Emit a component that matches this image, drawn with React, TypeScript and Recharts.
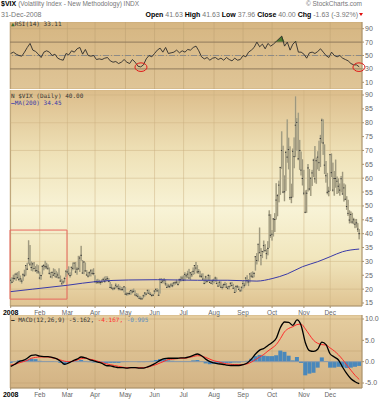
import React from 'react';
import {
  ComposedChart, Bar, Line, Area, XAxis, YAxis, CartesianGrid,
  ReferenceLine, ReferenceArea, ReferenceDot,
} from 'recharts';

// trading-day index of the first session of each month, and its label
const monthStart = [0, 21, 41, 61, 83, 104, 125, 147, 168, 189, 212, 231];
const monthLabels = ['2008', 'Feb', 'Mar', 'Apr', 'May', 'Jun', 'Jul', 'Aug', 'Sep', 'Oct', 'Nov', 'Dec'];

// daily [high, low, close]
const janBars = [
  [24.0, 21.8, 23.2], [24.3, 22.3, 22.5], [25.2, 22.6, 23.9], [25.6, 23.4, 23.8], [25.9, 23.0, 25.4],
  [26.1, 23.9, 24.1], [26.5, 22.9, 23.5], [24.9, 22.6, 23.7], [23.8, 22.0, 22.9], [25.7, 23.0, 25.2],
  [27.0, 24.4, 25.0], [28.7, 24.9, 28.5], [29.5, 26.9, 27.2], [37.6, 29.1, 31.0], [35.9, 28.3, 29.0],
  [30.0, 26.6, 27.8], [29.6, 26.4, 29.1], [29.8, 27.2, 27.4], [28.3, 26.3, 26.6], [28.9, 25.7, 26.7],
  [28.6, 25.5, 26.2],
];
const febBars = [
  [26.3, 23.5, 24.0], [25.2, 23.4, 24.9], [28.6, 25.3, 28.2], [29.0, 26.8, 28.5], [30.2, 27.3, 28.1],
  [29.5, 27.2, 28.0], [28.9, 26.9, 27.5], [27.8, 25.3, 25.7], [26.2, 24.2, 24.4], [26.4, 23.9, 26.0],
  [27.5, 25.0, 25.0], [27.2, 24.3, 25.6], [26.6, 24.2, 24.4], [26.0, 23.9, 25.1], [27.5, 23.8, 24.1],
  [24.9, 22.6, 22.9], [23.6, 21.8, 21.9], [23.2, 21.9, 22.6], [24.4, 22.4, 23.8], [26.6, 24.4, 26.5],
];
const marBars = [
  [27.2, 25.5, 26.2], [28.2, 25.0, 25.5], [26.1, 24.2, 24.9], [28.0, 24.9, 27.9], [29.6, 26.8, 27.5],
  [29.5, 27.1, 29.4], [29.8, 25.8, 26.2], [28.0, 25.2, 27.2], [32.0, 27.1, 27.3], [32.0, 26.2, 31.2],
  [35.6, 30.2, 32.2], [30.5, 25.6, 25.8], [29.9, 25.4, 29.8], [29.6, 26.2, 26.6], [26.9, 24.9, 25.1],
  [26.2, 24.2, 24.7], [26.4, 24.6, 25.9], [27.2, 24.6, 26.6], [27.1, 25.2, 25.7], [27.5, 25.0, 25.6],
];
const aprBars = [
  [25.0, 22.3, 22.7], [23.5, 21.9, 22.6], [23.7, 22.0, 22.5], [23.4, 21.9, 22.5], [22.9, 21.6, 22.4],
  [23.6, 22.2, 22.6], [24.1, 22.6, 23.5], [24.5, 22.3, 22.8], [24.7, 22.9, 23.5], [24.6, 23.0, 23.8],
  [24.0, 22.5, 22.8], [22.6, 20.5, 20.6], [21.8, 20.0, 20.4], [20.7, 19.6, 20.1], [20.9, 19.7, 20.3],
  [22.1, 20.2, 21.4], [21.5, 20.4, 20.9], [21.8, 19.6, 20.2], [21.2, 19.6, 20.1], [20.8, 19.6, 19.8],
  [20.7, 19.4, 19.9], [21.1, 18.8, 20.8],
];
const mayBars = [
  [20.8, 18.0, 18.2], [18.9, 17.6, 18.2], [18.8, 17.8, 18.4], [19.4, 17.9, 18.4], [19.8, 18.0, 19.5],
  [19.9, 18.5, 19.0], [20.2, 18.8, 19.2], [19.6, 17.8, 17.9], [18.6, 17.5, 17.6], [18.4, 16.9, 17.4],
  [17.6, 16.6, 16.7], [17.4, 16.3, 16.5], [17.1, 16.3, 16.5], [18.0, 16.7, 17.6], [18.9, 17.3, 18.6],
  [18.8, 17.8, 18.2], [19.7, 18.3, 19.6], [19.8, 18.3, 18.5], [18.9, 17.9, 18.1], [18.3, 17.3, 17.7],
  [18.3, 17.5, 17.8],
];
const junBars = [
  [19.6, 18.2, 19.3], [20.3, 18.9, 19.9], [20.3, 19.0, 19.4], [19.9, 17.7, 17.8], [23.7, 18.4, 23.6],
  [24.0, 22.1, 22.4], [23.7, 22.1, 22.9], [24.0, 22.1, 23.2], [23.4, 21.2, 21.9], [22.0, 20.4, 20.6],
  [21.9, 20.5, 21.1], [21.6, 20.4, 20.9], [22.2, 20.8, 21.5], [22.3, 20.7, 21.2], [22.6, 21.3, 22.2],
  [22.8, 21.6, 22.3], [23.4, 21.9, 22.5], [22.8, 21.3, 21.7], [23.8, 22.1, 23.4], [24.6, 22.7, 23.4],
  [24.8, 22.9, 24.0],
];
const julBars = [
  [25.0, 22.9, 23.2], [26.1, 22.9, 25.3], [25.6, 23.9, 24.8], [26.6, 24.0, 25.4], [27.3, 23.8, 24.0],
  [26.0, 23.3, 25.9], [26.4, 24.4, 25.2], [27.8, 25.1, 26.4], [28.7, 25.4, 28.5], [29.8, 26.7, 27.6],
  [28.7, 25.6, 26.2], [27.2, 25.5, 26.3], [26.6, 24.2, 24.7], [25.6, 24.0, 24.6], [25.7, 23.3, 23.6],
  [23.9, 21.9, 22.0], [24.8, 22.1, 24.4], [24.3, 22.5, 22.7], [25.4, 22.8, 24.9], [25.1, 22.2, 22.4],
  [23.2, 21.9, 22.1], [23.5, 21.6, 22.9],
];
const augBars = [
  [23.8, 22.1, 23.2], [24.5, 22.6, 24.0], [24.2, 21.9, 22.0], [22.4, 20.8, 21.1], [22.9, 21.0, 22.5],
  [22.8, 20.5, 20.7], [21.5, 19.9, 20.6], [22.0, 20.4, 21.6], [22.6, 21.1, 21.7], [22.2, 20.5, 20.7],
  [21.1, 19.9, 20.3], [21.3, 19.9, 20.9], [22.5, 20.8, 22.1], [22.6, 21.1, 21.3], [21.9, 20.2, 20.3],
  [20.7, 18.8, 18.8], [21.3, 19.0, 21.0], [21.5, 20.6, 20.8], [21.1, 19.8, 19.9], [20.1, 19.1, 19.4],
  [20.8, 19.2, 20.7],
];
const sepBars = [
  [23.2, 20.2, 22.0], [22.3, 20.6, 21.4], [24.3, 21.3, 24.0], [25.0, 22.1, 23.1], [23.6, 21.1, 22.6],
  [25.6, 22.4, 25.5], [26.1, 24.2, 24.7], [26.4, 24.2, 24.4], [26.0, 24.3, 25.7], [31.8, 26.7, 31.7],
  [33.0, 28.9, 30.3], [36.2, 30.0, 36.2], [42.2, 33.0, 33.1], [34.8, 28.6, 32.1], [33.7, 31.2, 33.6],
  [37.5, 33.2, 35.7], [36.2, 33.5, 33.9], [34.4, 30.8, 32.8], [37.3, 32.2, 34.7], [48.4, 34.9, 46.7],
  [47.0, 38.5, 39.4],
];
const octBars = [
  [41.3, 37.5, 39.8], [45.6, 39.0, 45.3], [47.4, 40.6, 45.1], [58.2, 45.1, 52.1], [54.2, 46.3, 53.7],
  [59.1, 51.3, 57.5], [64.0, 54.0, 63.9], [76.9, 63.4, 70.0], [71.7, 54.6, 55.0], [61.0, 51.7, 55.1],
  [69.9, 55.4, 69.3], [81.2, 65.6, 67.6], [74.6, 63.2, 70.3], [71.5, 52.2, 53.0], [58.0, 51.0, 53.1],
  [70.7, 53.1, 69.7], [74.7, 63.6, 67.8], [89.5, 67.6, 79.1], [81.7, 69.9, 80.1], [83.6, 66.5, 67.0],
  [73.8, 63.0, 70.0], [69.6, 61.0, 62.9], [66.8, 57.4, 59.9],
];
const novBars = [
  [63.0, 53.9, 54.6], [55.6, 47.4, 47.7], [55.8, 47.5, 54.6], [65.1, 55.2, 63.7], [63.3, 55.6, 56.1],
  [60.2, 53.6, 60.0], [63.0, 57.2, 61.9], [67.0, 60.4, 66.5], [71.6, 58.4, 59.8], [67.4, 58.0, 66.3],
  [69.7, 63.2, 67.6], [73.5, 62.6, 65.6], [75.6, 64.0, 74.3], [81.5, 72.6, 80.9], [81.2, 68.4, 72.7],
  [72.2, 61.5, 64.7], [66.2, 58.4, 60.9], [61.9, 54.2, 54.9], [56.9, 53.5, 55.3],
];
const decBars = [
  [68.6, 55.4, 68.5], [68.9, 60.4, 62.0], [65.6, 55.2, 55.7], [62.6, 53.7, 59.9], [66.7, 56.6, 59.9],
  [60.6, 54.3, 58.9], [59.9, 54.6, 57.1], [58.1, 53.7, 55.7], [60.8, 54.9, 59.8], [62.3, 54.1, 54.3],
  [58.1, 51.6, 56.5], [57.7, 52.1, 52.4], [53.5, 48.6, 49.8], [52.2, 46.4, 47.3], [48.4, 43.7, 44.9],
  [48.0, 43.8, 46.9], [47.5, 43.6, 44.2], [45.7, 43.4, 45.0], [45.3, 42.0, 43.4], [45.3, 42.2, 43.9],
  [43.8, 40.6, 41.63], [41.63, 37.96, 40.0],
];

// 200-day moving average, read at a few trading-day indices
const maIndex = [0, 16, 41, 63, 85, 106, 135, 157, 178, 189, 200, 211, 222, 231, 240, 252];
const maValue = [19.1, 20.0, 21.4, 22.8, 23.3, 23.4, 23.2, 23.2, 22.9, 23.8, 25.5, 28.1, 29.9, 31.7, 33.5, 34.45];

// RSI(14), every 2nd session
const rsiValues = [
  53, 55, 52, 50, 49, 55, 62, 68, 58, 56,
  52, 47, 55, 57, 55, 50, 52, 46, 44, 43,
  53, 51, 57, 55, 60, 62, 52, 59, 50, 49,
  50, 44, 45, 44, 46, 47, 42, 40, 41, 38,
  40, 44, 40, 38, 44, 40, 34, 33, 36, 45,
  50, 48, 53, 58, 61, 55, 62, 53, 54, 55,
  58, 54, 57, 55, 59, 58, 62, 64, 57, 48,
  45, 47, 43, 46, 47, 44, 46, 43, 47, 44,
  42, 46, 43, 44, 50, 48, 55, 58, 62, 70,
  63, 67, 60, 68, 64, 67, 71, 75, 79, 64,
  70, 58, 67, 71, 55, 55, 52, 46, 54, 55,
  53, 56, 60, 55, 50, 47, 55, 50, 48, 50,
  46, 44, 42, 38, 36, 36, 33.11,
];

// MACD(12,26,9), every 3rd session
const macdValues = [
  -1.1, -0.6, 0.0, 0.3, 0.8, 1.5, 1.6, 1.3, 1.2, 1.2,
  1.0, 0.7, 0.1, -0.6, -0.3, 0.2, 0.6, 1.1, 0.9, 0.5,
  0.2, -0.1, -0.4, -0.9, -1.0, -1.2, -1.4, -1.4, -1.5, -1.4,
  -1.4, -1.5, -1.5, -1.2, -0.8, -0.3, 0.3, 0.7, 0.8, 0.8,
  0.8, 0.9, 0.9, 1.1, 1.5, 1.8, 1.4, 0.6, 0.0, -0.3,
  -0.5, -0.6, -0.8, -0.9, -0.9, -0.9, -0.7, -0.3, 0.6, 1.8,
  2.7, 3.1, 3.8, 4.5, 5.5, 8.0, 9.3, 9.2, 8.5, 9.8,
  8.5, 4.5, 2.6, 2.4, 2.9, 4.6, 4.0, 1.8, 1.1, 0.4,
  -1.3, -2.8, -4.0, -4.7, -5.162,
];
const signalValues = [
  -0.8, -0.6, -0.3, 0.0, 0.3, 0.8, 1.0, 1.1, 1.1, 1.1,
  0.9, 0.7, 0.4, 0.1, 0.0, 0.1, 0.4, 0.7, 0.8, 0.6,
  0.4, 0.1, -0.2, -0.5, -0.7, -0.9, -1.1, -1.3, -1.4, -1.4,
  -1.4, -1.4, -1.4, -1.3, -1.0, -0.7, -0.3, 0.1, 0.5, 0.6,
  0.7, 0.8, 0.8, 1.0, 1.2, 1.4, 1.3, 1.0, 0.6, 0.2,
  0.0, -0.3, -0.5, -0.6, -0.7, -0.7, -0.7, -0.5, -0.1, 0.5,
  1.1, 1.7, 2.5, 3.2, 4.0, 5.4, 7.0, 7.8, 8.2, 8.7,
  8.8, 7.7, 6.3, 5.0, 4.3, 4.0, 3.9, 3.2, 2.5, 1.6,
  0.5, -0.8, -2.0, -3.2, -4.167,
];
const histValues = [
  -0.3, 0.0, 0.3, 0.3, 0.5, 0.7, 0.6, 0.2, 0.1, 0.1,
  0.1, 0.0, -0.3, -0.7, -0.3, 0.1, 0.2, 0.4, 0.1, -0.1,
  -0.2, -0.2, -0.2, -0.4, -0.3, -0.3, -0.3, -0.1, -0.1, 0.0,
  0.0, -0.1, -0.1, 0.1, 0.2, 0.4, 0.6, 0.6, 0.3, 0.2,
  0.1, 0.1, 0.1, 0.1, 0.3, 0.4, 0.1, -0.4, -0.6, -0.5,
  -0.5, -0.3, -0.3, -0.3, -0.2, -0.2, 0.0, 0.2, 0.7, 1.3,
  1.6, 1.4, 1.3, 1.3, 1.5, 2.6, 2.3, 1.4, 0.3, 1.1,
  -0.3, -3.2, -2.8, -2.6, -1.4, 1.0, 0.1, -1.4, -1.4, -1.2,
  -1.3, -1.5, -1.4, -1.2, -0.995,
];

const allBars = [...janBars, ...febBars, ...marBars, ...aprBars, ...mayBars, ...junBars,
  ...julBars, ...augBars, ...sepBars, ...octBars, ...novBars, ...decBars];
const priceRows = allBars.map((b, i) => ({ i, hl: [b[1], b[0]], high: b[0], low: b[1], close: b[2] }));
const maRows = maIndex.map((i, k) => ({ i, v: maValue[k] }));
const rsiRows = rsiValues.map((v, k) => ({ i: k * 2, v }));
const macdRows = macdValues.map((m, k) => ({ i: k * 3, m, s: signalValues[k], h: histValues[k] }));

const W = 388;
const AXIS_W = 26;
const X_DOMAIN: [number, number] = [-0.5, 254];
const SANS = '"Liberation Sans", Arial, sans-serif';
const MONO = '"DejaVu Sans Mono", monospace';
const tickStyle = { fontSize: 7, fill: '#666', fontFamily: SANS };

const PriceBar = (props: any) => {
  const { x, y, width, height, payload } = props;
  if (x == null || y == null) return null;
  const top = Math.min(y, y + height);
  const h = Math.max(Math.abs(height), 1);
  const cx = x + width / 2;
  const span = payload.high - payload.low || 1;
  const yc = top + ((payload.high - payload.close) / span) * h;
  return (
    <g>
      <rect x={cx - 0.8} y={top} width={1.6} height={h} fill="#bfb899" />
      <line x1={cx} x2={cx} y1={top} y2={top + h} stroke="#858069" strokeWidth={0.6} />
      <line x1={cx - 0.8} x2={cx + 0.8} y1={yc} y2={yc} stroke="#333" strokeWidth={0.9} />
    </g>
  );
};

const MonthTick = (props: any) => {
  const { x, y, payload } = props;
  const k = monthStart.indexOf(payload.value);
  return (
    <text x={x} y={y + 5} textAnchor="middle" fontSize={k === 0 ? 7 : 6.5} fontFamily={SANS}
      fontWeight={k === 0 ? 'bold' : 'normal'} fill={k === 0 ? '#000' : '#666'}>
      {monthLabels[k]}
    </text>
  );
};

const Ellipse = (props: any) => (
  <ellipse cx={props.cx} cy={props.cy} rx={6} ry={4.3} fill="none" stroke="#e01818" strokeWidth={1} />
);

const panel = (top: number, height: number, bg: string): React.CSSProperties => ({
  position: 'absolute', left: 10, top, width: 352, height, background: bg,
  boxSizing: 'border-box', borderLeft: '1px solid #b8a27c',
});

export default function App() {
  return (
    <div style={{ position: 'absolute', left: 0, top: 0, width: W, height: 400, background: '#fff', overflow: 'hidden', fontFamily: SANS }}>
      {/* header */}
      <div style={{ position: 'absolute', left: 1, top: 0, fontSize: 7, fontWeight: 'bold', whiteSpace: 'nowrap', lineHeight: '8px' }}>
        $VIX <span style={{ fontWeight: 'normal', fontSize: 6.5, color: '#777' }}>(Volatility Index - New Methodology) INDX</span>
      </div>
      <div style={{ position: 'absolute', right: 26, top: 0, fontSize: 6.5, color: '#777', whiteSpace: 'nowrap', lineHeight: '8px' }}>
        © StockCharts.com
      </div>
      <div style={{ position: 'absolute', left: 1, top: 10, fontSize: 7, color: '#777', whiteSpace: 'nowrap', lineHeight: '9px' }}>
        31-Dec-2008
      </div>
      <div style={{ position: 'absolute', right: 30, top: 10, fontSize: 7, color: '#777', whiteSpace: 'nowrap', lineHeight: '9px' }}>
        <b style={{ color: '#000' }}>Open</b> 41.63 <b style={{ color: '#000' }}>High</b> 41.63 <b style={{ color: '#000' }}>Low</b> 37.96{' '}
        <b style={{ color: '#000' }}>Close</b> 40.00 <b style={{ color: '#000' }}>Chg</b> -1.63 (-3.92%)
      </div>
      <div style={{ position: 'absolute', left: 359, top: 13, width: 0, height: 0, borderLeft: '2.5px solid transparent', borderRight: '2.5px solid transparent', borderTop: '3px solid #e01010' }} />

      {/* panel backgrounds */}
      <div style={panel(22, 67, 'linear-gradient(#d6b682, #dfc597)')} />
      <div style={panel(90, 216, 'linear-gradient(#dcbd8b 0%, #efe2b8 30%, #f8f3d6 55%, #f1e6bd 78%, #dfc391 100%)')} />
      <div style={panel(315, 73, 'linear-gradient(#e5cd9f, #d3b384)')} />

      {/* RSI panel */}
      <div style={{ position: 'absolute', left: 0, top: 22 }}>
        <ComposedChart width={W} height={67} data={rsiRows} margin={{ top: 0, right: 0, bottom: 0, left: 10 }}>
          <CartesianGrid stroke="#c2a574" strokeOpacity={0.6} />
          <XAxis type="number" dataKey="i" domain={X_DOMAIN} ticks={monthStart} allowDataOverflow hide />
          <YAxis orientation="right" width={AXIS_W} domain={[0, 100]} ticks={[10, 30, 50, 70, 90]}
            tick={tickStyle} tickSize={2} tickMargin={1} stroke="#a8916c" />
          <ReferenceLine y={70} stroke="#8f7a5c" />
          <ReferenceLine y={30} stroke="#8f7a5c" />
          <ReferenceLine y={50} stroke="#8c8a86" strokeDasharray="6 2 1 2" />
          <Area dataKey={(d: any) => Math.max(d.v, 70)} baseValue={70} type="linear" fill="#4f7d2e"
            fillOpacity={1} stroke="none" isAnimationActive={false} />
          <Line dataKey="v" type="linear" stroke="#2b2b2b" strokeWidth={0.9} dot={false} isAnimationActive={false} />
          <ReferenceDot x={94.2} y={32.6} ifOverflow="visible" shape={Ellipse} />
          <ReferenceDot x={251.8} y={32.6} ifOverflow="visible" shape={Ellipse} />
        </ComposedChart>
      </div>

      {/* price panel */}
      <div style={{ position: 'absolute', left: 0, top: 90 }}>
        <ComposedChart width={W} height={228} data={priceRows} margin={{ top: 0, right: 0, bottom: 0, left: 10 }}>
          <CartesianGrid stroke="#c9b07f" strokeOpacity={0.45} />
          <XAxis type="number" dataKey="i" domain={X_DOMAIN} ticks={monthStart} allowDataOverflow height={12}
            tick={<MonthTick />} tickSize={2} stroke="#a8916c" interval={0} />
          <YAxis orientation="right" width={AXIS_W} domain={[13.92, 91.8]} allowDataOverflow
            ticks={[15, 20, 25, 30, 35, 40, 45, 50, 55, 60, 65, 70, 75, 80, 85, 90]}
            tick={tickStyle} tickSize={2} tickMargin={1} stroke="#a8916c" />
          <Bar dataKey="hl" barSize={2} shape={PriceBar} isAnimationActive={false} />
          <Line data={maRows} dataKey="v" type="monotone" stroke="#3a3aa8" strokeWidth={1} dot={false} isAnimationActive={false} />
          <ReferenceArea x1={-0.5} x2={40.7} y1={16.4} y2={41.3} fill="none" stroke="#e8685f" strokeWidth={1} ifOverflow="visible" />
        </ComposedChart>
      </div>

      {/* MACD panel */}
      <div style={{ position: 'absolute', left: 0, top: 315 }}>
        <ComposedChart width={W} height={85} data={macdRows} margin={{ top: 0, right: 0, bottom: 0, left: 10 }}>
          <CartesianGrid stroke="#bfa272" strokeOpacity={0.5} />
          <XAxis type="number" dataKey="i" domain={X_DOMAIN} ticks={monthStart} allowDataOverflow height={12}
            tick={<MonthTick />} tickSize={2} stroke="#a8916c" interval={0} />
          <YAxis orientation="right" width={AXIS_W} domain={[-6.17, 10.94]} allowDataOverflow
            ticks={[-5, -2.5, 0, 2.5, 5, 7.5, 10]} tickFormatter={(v: number) => v.toFixed(1)}
            tick={tickStyle} tickSize={2} tickMargin={1} stroke="#a8916c" />
          <ReferenceLine y={0} stroke="#8d9aa8" />
          <Bar dataKey="h" barSize={4} fill="#4a88bb" isAnimationActive={false} />
          <Line dataKey="s" type="monotone" stroke="#ff2a2a" strokeWidth={1} dot={false} isAnimationActive={false} />
          <Line dataKey="m" type="monotone" stroke="#000" strokeWidth={1.3} dot={false} isAnimationActive={false} />
        </ComposedChart>
      </div>

      {/* panel labels */}
      <div style={{ position: 'absolute', left: 11, top: 20, fontFamily: MONO, fontSize: 6, color: '#333', whiteSpace: 'nowrap' }}>
        <span style={{ color: '#3d6b2a' }}>▲</span>RSI(14) 33.11
      </div>
      <div style={{ position: 'absolute', left: 11, top: 92, fontFamily: MONO, fontSize: 6, color: '#333', whiteSpace: 'nowrap', lineHeight: '7px' }}>
        <div>N $VIX (Daily) 40.00</div>
        <div style={{ color: '#3a3aa8' }}><span style={{ fontWeight: 'bold' }}>—</span>MA(200) 34.45</div>
      </div>
      <div style={{ position: 'absolute', left: 11, top: 316, fontFamily: MONO, fontSize: 6, color: '#333', whiteSpace: 'nowrap' }}>
        <span style={{ fontWeight: 'bold', color: '#000' }}>—</span> MACD(12,26,9) -5.162,{' '}
        <span style={{ color: '#ff3030' }}>-4.167,</span> <span style={{ color: '#5a8ec0' }}>-0.995</span>
      </div>
    </div>
  );
}
